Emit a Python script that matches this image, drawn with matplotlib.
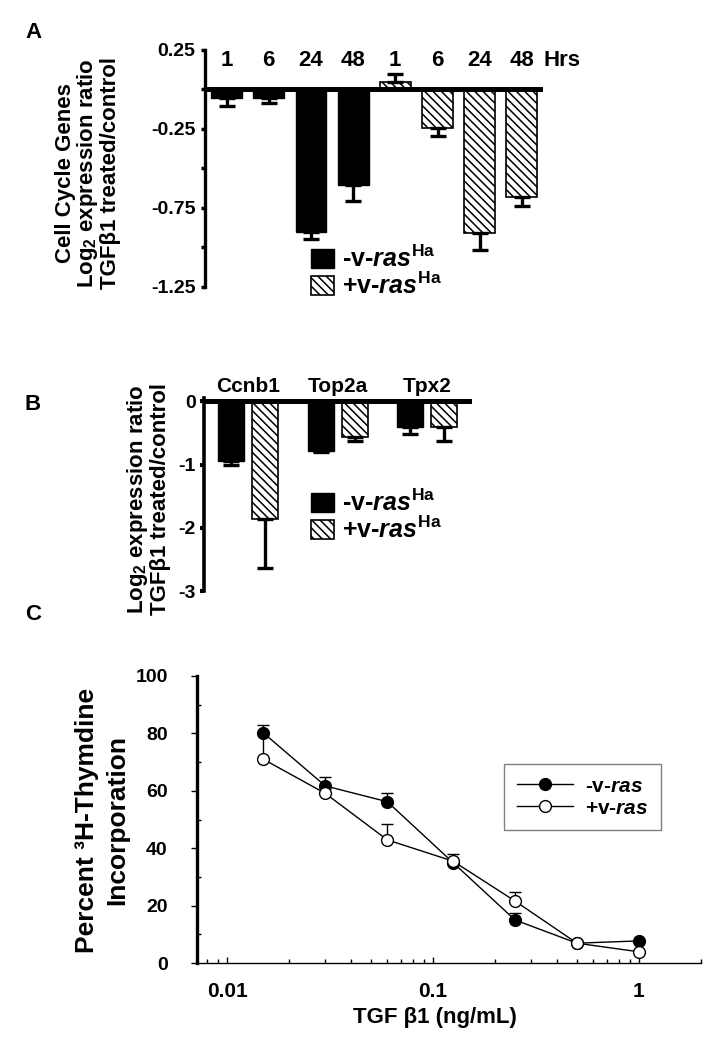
import matplotlib
matplotlib.use('Agg')
import matplotlib.pyplot as plt
from matplotlib.ticker import NullFormatter, FixedLocator
import numpy as np

plt.rcParams['font.family'] = 'Liberation Sans'
plt.rcParams['font.weight'] = 'bold'
plt.rcParams['axes.labelweight'] = 'bold'
plt.rcParams['mathtext.fontset'] = 'custom'
plt.rcParams['mathtext.rm'] = 'Liberation Sans:bold'
plt.rcParams['mathtext.it'] = 'Liberation Sans:italic:bold'
plt.rcParams['mathtext.bf'] = 'Liberation Sans:bold'
plt.rcParams['hatch.linewidth'] = 1.1

# panel A: cell cycle genes over time
hours = ['1', '6', '24', '48', '1', '6', '24', '48']
a_vals = [-0.057, -0.057, -0.907, -0.608, 0.046, -0.245, -0.909, -0.681]
a_err_end = [-0.105, -0.087, -0.951, -0.709, 0.095, -0.297, -1.019, -0.738]
a_ras = [False, False, False, False, True, True, True, True]

# panel B: single genes
genes = ['Ccnb1', 'Top2a', 'Tpx2']
b_minus = [-0.95, -0.79, -0.41]
b_minus_err = [-1.01, -0.80, -0.51]
b_plus = [-1.86, -0.57, -0.41]
b_plus_err = [-2.64, -0.62, -0.62]

# panel C: thymidine incorporation
dose = [0.015, 0.03, 0.06, 0.125, 0.25, 0.5, 1.0]
c_minus = [80.2, 61.7, 56.2, 35.0, 15.0, 6.9, 7.7]
c_minus_err = [2.7, 3.0, 2.9, 3.0, 2.4, 0.0, 0.0]
c_plus = [71.0, 59.1, 42.9, 35.5, 21.6, 6.9, 3.9]
c_plus_err = [9.0, 0.0, 5.4, 0.0, 3.2, 0.0, 0.0]

W, H = 714, 1050
fig = plt.figure(figsize=(W / 100, H / 100), dpi=100)

def rect(l, t, r, b):
    return [l / W, 1 - b / H, (r - l) / W, (b - t) / H]

hatch = '\\\\\\\\'
lab_minus = r'-v-$\mathit{ras}^{\mathrm{Ha}}$'
lab_plus = r'+v-$\mathit{ras}^{\mathrm{Ha}}$'

# ---------------- A ----------------
ax = fig.add_axes(rect(205, 49.5, 543, 286.5))
x = np.arange(len(a_vals))
handles = {}
for i in range(len(a_vals)):
    if a_ras[i]:
        b = ax.bar(x[i], a_vals[i], width=0.73, color='white', edgecolor='black',
                   hatch=hatch, linewidth=1.2, zorder=2)
        handles['plus'] = b
    else:
        b = ax.bar(x[i], a_vals[i], width=0.73, color='black', edgecolor='black', zorder=2)
        handles['minus'] = b
    v, e = a_vals[i], a_err_end[i]
    if e < v:
        yerr = [[v - e], [0]]
    else:
        yerr = [[0], [e - v]]
    ax.errorbar(x[i], v, yerr=yerr, fmt='none', ecolor='black', elinewidth=2.4,
                capsize=6, capthick=2.4, zorder=3)
ax.axhline(0, color='black', lw=3.6, zorder=4)
ax.set_xlim(-0.51, 7.5)
ax.set_ylim(-1.25, 0.25)
for s in ['top', 'right', 'bottom']:
    ax.spines[s].set_visible(False)
ax.spines['left'].set_linewidth(2.4)
ax.set_xticks([])
ax.set_yticks([0.25, -0.25, -0.75, -1.25])
ax.set_yticklabels(['0.25', '-0.25', '-0.75', '-1.25'])
ax.yaxis.set_minor_locator(FixedLocator([0, -0.5, -1.0]))
ax.tick_params(axis='y', which='both', length=3, width=2.5, pad=4, labelsize=14)
for i, h in enumerate(hours):
    ax.text(x[i], 0.18, h, ha='center', va='center', fontsize=16, clip_on=False)
ax.text(7.95, 0.18, 'Hrs', ha='center', va='center', fontsize=16, clip_on=False)
ax.legend([handles['minus'], handles['plus']], [lab_minus, lab_plus],
          loc='upper left', bbox_to_anchor=(311 / W, 1 - 246 / H),
          bbox_transform=fig.transFigure, frameon=False, borderpad=0,
          borderaxespad=0, fontsize=18, handlelength=0.92, handleheight=0.8,
          handletextpad=0.3, labelspacing=0.0)

fig.text(88 / W, 1 - 173 / H,
         'Cell Cycle Genes\nLog$_\\mathrm{2}$ expression ratio\nTGFβ1 treated/control',
         rotation=90, ha='center', va='center', multialignment='center',
         fontsize=16, linespacing=0.98)

# ---------------- B ----------------
ax = fig.add_axes(rect(204, 398.3, 472, 591))
g = np.arange(len(genes))
bm = ax.bar(g - 0.19, b_minus, width=0.29, color='black', edgecolor='black', zorder=2)
bp = ax.bar(g + 0.19, b_plus, width=0.29, color='white', edgecolor='black',
            hatch=hatch, linewidth=1.2, zorder=2)
ax.errorbar(g - 0.19, b_minus, yerr=[np.array(b_minus) - np.array(b_minus_err), np.zeros(3)],
            fmt='none', ecolor='black', elinewidth=2.4, capsize=6, capthick=2.4, zorder=3)
ax.errorbar(g + 0.19, b_plus, yerr=[np.array(b_plus) - np.array(b_plus_err), np.zeros(3)],
            fmt='none', ecolor='black', elinewidth=2.4, capsize=6, capthick=2.4, zorder=3)
ax.axhline(0, color='black', lw=3.6, zorder=4)
ax.set_xlim(-0.49, 2.5)
ax.set_ylim(-3, 0.05)
for s in ['top', 'right', 'bottom']:
    ax.spines[s].set_visible(False)
ax.spines['left'].set_linewidth(2.6)
ax.set_xticks([])
ax.set_yticks([0, -1, -2, -3])
ax.set_yticklabels(['0', '-1', '-2', '-3'])
ax.tick_params(axis='y', length=3, width=3, pad=3, labelsize=14)
for i, name in enumerate(genes):
    ax.text(g[i], 0.23, name, ha='center', va='center', fontsize=15, clip_on=False)
ax.legend([bm, bp], [lab_minus, lab_plus],
          loc='upper left', bbox_to_anchor=(311 / W, 1 - 490 / H),
          bbox_transform=fig.transFigure, frameon=False, borderpad=0,
          borderaxespad=0, fontsize=18, handlelength=0.92, handleheight=0.8,
          handletextpad=0.3, labelspacing=0.0)

fig.text(148 / W, 1 - 499 / H,
         'Log$_\\mathrm{2}$ expression ratio\nTGFβ1 treated/control',
         rotation=90, ha='center', va='center', multialignment='center',
         fontsize=16, linespacing=0.98)

# ---------------- C ----------------
ax = fig.add_axes(rect(197, 676, 701, 963))
ax.set_xscale('log')
ax.errorbar(dose, c_minus, yerr=[np.zeros(len(dose)), c_minus_err], fmt='none',
            ecolor='black', elinewidth=1, capsize=4, capthick=1, zorder=2)
ax.errorbar(dose, c_plus, yerr=[np.zeros(len(dose)), c_plus_err], fmt='none',
            ecolor='black', elinewidth=1, capsize=4, capthick=1, zorder=2)
ax.plot(dose, c_minus, '-o', color='black', lw=1, ms=8.5, mfc='black', mec='black',
        label=r'-v-$\mathit{ras}$', zorder=3)
ax.plot(dose, c_plus, '-o', color='black', lw=1, ms=8.5, mfc='white', mec='black',
        label=r'+v-$\mathit{ras}$', zorder=4)
ax.set_xlim(0.00715, 2.0)
ax.set_ylim(0, 100)
for s in ['top', 'right']:
    ax.spines[s].set_visible(False)
ax.spines['left'].set_linewidth(2.4)
ax.spines['bottom'].set_linewidth(1.0)
ax.set_xticks([0.01, 0.1, 1])
ax.set_xticklabels(['0.01', '0.1', '1'])
ax.xaxis.set_minor_formatter(NullFormatter())
ax.tick_params(axis='x', which='major', direction='in', length=4, width=1, pad=14, labelsize=15)
ax.tick_params(axis='x', which='minor', direction='in', length=3, width=1)
ax.set_yticks([0, 20, 40, 60, 80, 100])
ax.yaxis.set_minor_locator(FixedLocator([10, 30, 50, 70, 90]))
ax.tick_params(axis='y', which='major', direction='out', length=4, width=1, pad=17, labelsize=14)
ax.tick_params(axis='y', which='minor', direction='in', length=3, width=1)
ax.set_xlabel('TGF β1 (ng/mL)', fontsize=16, fontweight='bold')
ax.xaxis.set_label_coords((435 - 197) / 504, (963 - 1017) / 287)
ax.xaxis.label.set_va('center')
leg = ax.legend(loc='upper left', bbox_to_anchor=(504 / W, 1 - 764 / H),
                bbox_transform=fig.transFigure, fontsize=15, fancybox=False,
                edgecolor='#808080', framealpha=1, borderpad=0.6, borderaxespad=0,
                handlelength=2.7, handletextpad=0.6, labelspacing=0.15)
leg.get_frame().set_linewidth(1.0)

fig.text(102 / W, 1 - 820 / H, 'Percent ³H-Thymdine\nIncorporation', rotation=90,
         ha='center', va='center', multialignment='center', fontsize=19, linespacing=1.35)

fig.text(33 / W, 1 - 33 / H, 'A', ha='center', va='center', fontsize=16)
fig.text(33 / W, 1 - 405 / H, 'B', ha='center', va='center', fontsize=16)
fig.text(33 / W, 1 - 615 / H, 'C', ha='center', va='center', fontsize=16)

fig.savefig('out.png', dpi=100)
